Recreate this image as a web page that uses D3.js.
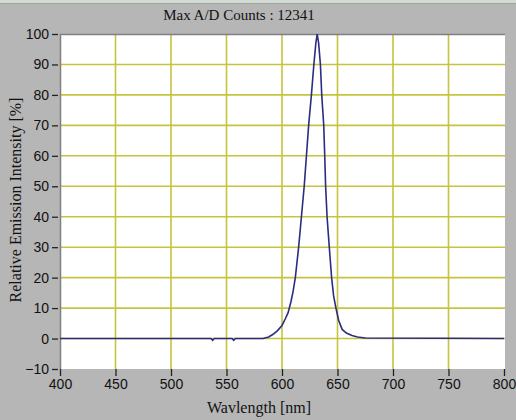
<!DOCTYPE html>
<html>
<head>
<meta charset="utf-8">
<script src="https://cdn.jsdelivr.net/npm/d3@7"></script>
<style>
  body { margin: 0; background: #b6b6b6; }
  svg { display: block; }
</style>
</head>
<body>
<div id="chart"></div>
<script>
// spectrum
const wavelengths = [400, 536, 537.5, 539, 555, 556.5, 558, 583, 588, 592, 596, 600, 603, 605.5, 608, 610,
  612, 615, 617.5, 620, 622, 624, 626.5, 628.7, 630.5, 631.7, 633, 634.6, 635.8, 637.6, 638.5, 639.3,
  640.6, 642.6, 644.7, 646.5, 648.6, 651, 654.2, 658, 663, 668, 675, 800];
const intensity = [0, 0, -0.6, 0, 0, -0.6, 0, 0, 0.5, 1.4, 2.6, 4.3, 6.5, 8.5, 12, 15.5,
  20, 30, 40, 50, 60, 70, 80, 90, 97, 100, 97, 90, 80, 70, 60, 50,
  40, 30, 20, 14, 10, 6, 3, 1.8, 1, 0.5, 0.2, 0];

const xTicks = [400, 450, 500, 550, 600, 650, 700, 750, 800];
const yTicks = [-10, 0, 10, 20, 30, 40, 50, 60, 70, 80, 90, 100];

const title = "Max A/D Counts : 12341";
const xTitle = "Wavlength [nm]";
const yTitle = "Relative Emission Intensity [%]";

const W = 516, H = 420;
const margin = { top: 34, right: 11, bottom: 51, left: 60 };
const width = W - margin.left - margin.right;
const height = H - margin.top - margin.bottom;

const svg = d3.select("#chart")
  .append("svg")
  .attr("width", W)
  .attr("height", H);

// window strip at the top
svg.append("rect").attr("x", 0).attr("y", 0).attr("width", W).attr("height", 3).attr("fill", "#d3dad3");
svg.append("line").attr("x1", 0).attr("x2", W).attr("y1", 3.5).attr("y2", 3.5)
  .attr("stroke", "#9ea49e").attr("stroke-width", 1);

const g = svg.append("g")
  .attr("transform", `translate(${margin.left},${margin.top})`);

const x = d3.scaleLinear().domain([400, 800]).range([0, width - 1]);
const y = d3.scaleLinear().domain([-10, 100]).range([height, 0]);

// plot area
g.append("rect")
  .attr("width", width)
  .attr("height", height)
  .attr("fill", "#ffffff");

// grid
g.append("g")
  .selectAll("line")
  .data(xTicks.slice(1, -1))
  .join("line")
  .attr("x1", d => x(d)).attr("x2", d => x(d))
  .attr("y1", 0).attr("y2", height)
  .attr("stroke", "#c6c43c").attr("stroke-width", 1.6);

g.append("g")
  .selectAll("line")
  .data(yTicks.slice(1, -1))
  .join("line")
  .attr("x1", 0).attr("x2", width)
  .attr("y1", d => y(d)).attr("y2", d => y(d))
  .attr("stroke", "#c6c43c").attr("stroke-width", 1.6);

// shaded border top/left
g.append("path")
  .attr("d", `M0.5,${height} V0.5 H${width}`)
  .attr("fill", "none")
  .attr("stroke", "#808080")
  .attr("stroke-width", 1.5);

// axes
const xAxis = d3.axisBottom(x).tickValues(xTicks).tickSize(7).tickPadding(3);
const yAxis = d3.axisLeft(y).tickValues(yTicks).tickSize(7).tickPadding(3);

const gx = g.append("g")
  .attr("transform", `translate(0,${height})`)
  .call(xAxis);
const gy = g.append("g")
  .attr("transform", "translate(-2,0)")
  .call(yAxis);

[gx, gy].forEach(a => {
  a.select(".domain").remove();
  a.selectAll(".tick line").attr("stroke", "#222").attr("stroke-width", 1.3);
  a.selectAll(".tick text")
    .attr("fill", "#111")
    .attr("font-family", "'Liberation Sans', Arial, sans-serif")
    .attr("font-size", 14);
});
gy.selectAll(".tick line").attr("x2", -6).attr("x1", 0);
gy.selectAll(".tick text").attr("x", -9);

// spectrum
const pts = wavelengths.map((w, i) => [w, intensity[i]]);
g.append("path")
  .datum(pts)
  .attr("fill", "none")
  .attr("stroke", "#2c2c82")
  .attr("stroke-width", 1.6)
  .attr("d", d3.line().x(d => x(d[0])).y(d => y(d[1])));

// texts
svg.append("text")
  .attr("x", 239)
  .attr("y", 20)
  .attr("text-anchor", "middle")
  .attr("font-family", "'Liberation Serif', 'Times New Roman', serif")
  .attr("font-size", 15)
  .attr("fill", "#111")
  .text(title);

svg.append("text")
  .attr("x", 259)
  .attr("y", 413)
  .attr("text-anchor", "middle")
  .attr("font-family", "'Liberation Serif', 'Times New Roman', serif")
  .attr("font-size", 16)
  .attr("fill", "#111")
  .text(xTitle);

svg.append("text")
  .attr("transform", "rotate(-90)")
  .attr("x", -200)
  .attr("y", 21)
  .attr("text-anchor", "middle")
  .attr("font-family", "'Liberation Serif', 'Times New Roman', serif")
  .attr("font-size", 16)
  .attr("fill", "#111")
  .text(yTitle);
</script>
</body>
</html>
